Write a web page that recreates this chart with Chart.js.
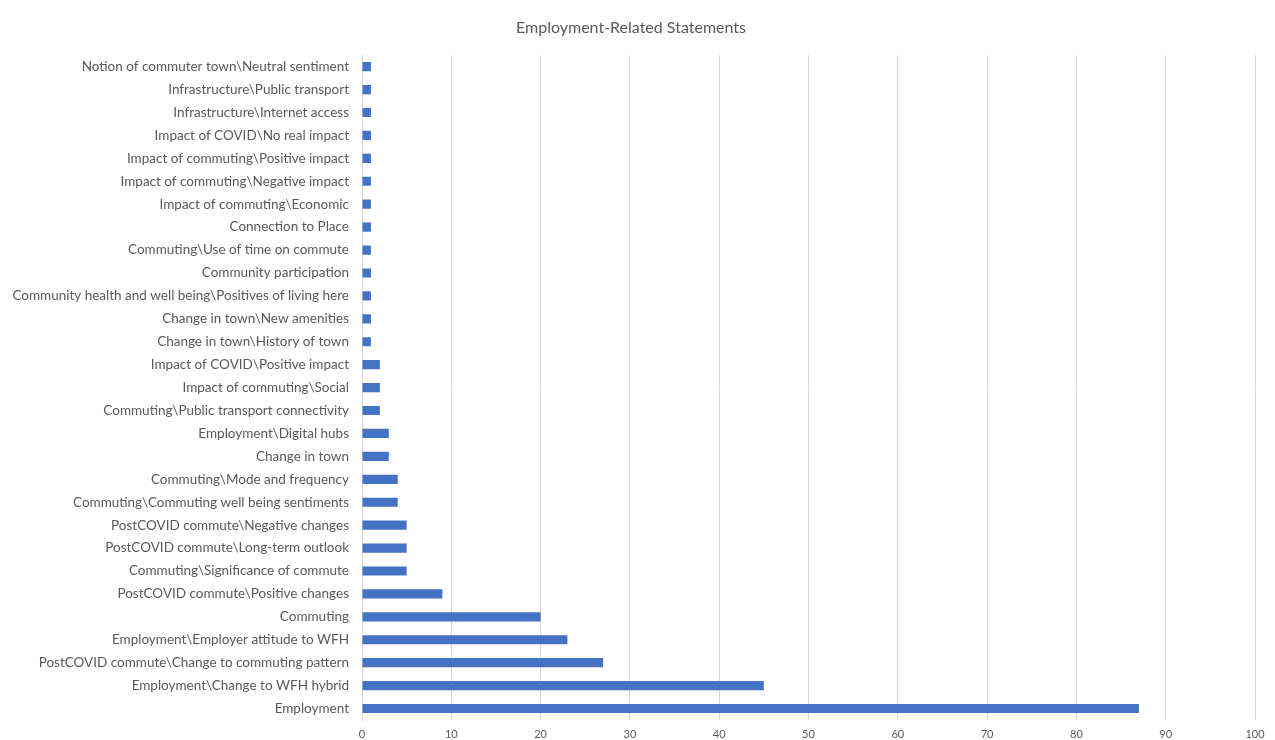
<!DOCTYPE html>
<html lang="en">
<head>
    <meta charset="UTF-8">
    <title>Employment-Related Statements</title>
    <script src="https://cdn.jsdelivr.net/npm/chart.js"></script>
    <style>
        html, body { margin: 0; padding: 0; background: #fff; }
        #wrap { width: 1275px; height: 740px; }
    </style>
</head>
<body>
    <div id="wrap"><canvas id="chart"></canvas></div>

    <script>
        // Categories, top to bottom as shown
        const categories = [
            'Notion of commuter town\\Neutral sentiment',
            'Infrastructure\\Public transport',
            'Infrastructure\\Internet access',
            'Impact of COVID\\No real impact',
            'Impact of commuting\\Positive impact',
            'Impact of commuting\\Negative impact',
            'Impact of commuting\\Economic',
            'Connection to Place',
            'Commuting\\Use of time on commute',
            'Community participation',
            'Community health and well being\\Positives of living here',
            'Change in town\\New amenities',
            'Change in town\\History of town',
            'Impact of COVID\\Positive impact',
            'Impact of commuting\\Social',
            'Commuting\\Public transport connectivity',
            'Employment\\Digital hubs',
            'Change in town',
            'Commuting\\Mode and frequency',
            'Commuting\\Commuting well being sentiments',
            'PostCOVID commute\\Negative changes',
            'PostCOVID commute\\Long-term outlook',
            'Commuting\\Significance of commute',
            'PostCOVID commute\\Positive changes',
            'Commuting',
            'Employment\\Employer attitude to WFH',
            'PostCOVID commute\\Change to commuting pattern',
            'Employment\\Change to WFH hybrid',
            'Employment'
        ];

        const counts = [1, 1, 1, 1, 1, 1, 1, 1, 1, 1, 1, 1, 1, 2, 2, 2, 3, 3, 4, 4, 5, 5, 5, 9, 20, 23, 27, 45, 87];

        const xMin = 0;
        const xMax = 100;
        const xStep = 10;

        const textColor = '#595959';
        const fontFamily = 'Lato, "Open Sans", sans-serif';

        new Chart(document.getElementById('chart').getContext('2d'), {
            type: 'bar',
            data: {
                labels: categories,
                datasets: [{
                    label: 'Statements',
                    data: counts,
                    backgroundColor: '#4472C4',
                    barPercentage: 0.8,
                    categoryPercentage: 0.5
                }]
            },
            options: {
                indexAxis: 'y',
                responsive: true,
                maintainAspectRatio: false,
                animation: false,
                layout: { padding: { left: 7, right: 20, top: 10, bottom: 0 } },
                plugins: {
                    legend: { display: false },
                    tooltip: { enabled: false },
                    title: {
                        display: true,
                        text: 'Employment-Related Statements',
                        color: textColor,
                        font: { family: fontFamily, size: 16, weight: 'normal' },
                        padding: { top: 8, bottom: 18 }
                    }
                },
                scales: {
                    x: {
                        min: xMin,
                        max: xMax,
                        afterFit: (scale) => { scale.height = 20; },
                        ticks: {
                            stepSize: xStep,
                            color: textColor,
                            font: { family: fontFamily, size: 11 },
                            padding: 8
                        },
                        grid: { color: '#d9d9d9', drawTicks: false },
                        border: { display: false }
                    },
                    y: {
                        afterFit: (scale) => { scale.width = 355; },
                        ticks: {
                            color: textColor,
                            font: { family: fontFamily, size: 13.5 },
                            autoSkip: false,
                            padding: 5
                        },
                        grid: { display: false },
                        border: { color: '#d9d9d9' }
                    }
                }
            }
        });
    </script>
</body>
</html>
